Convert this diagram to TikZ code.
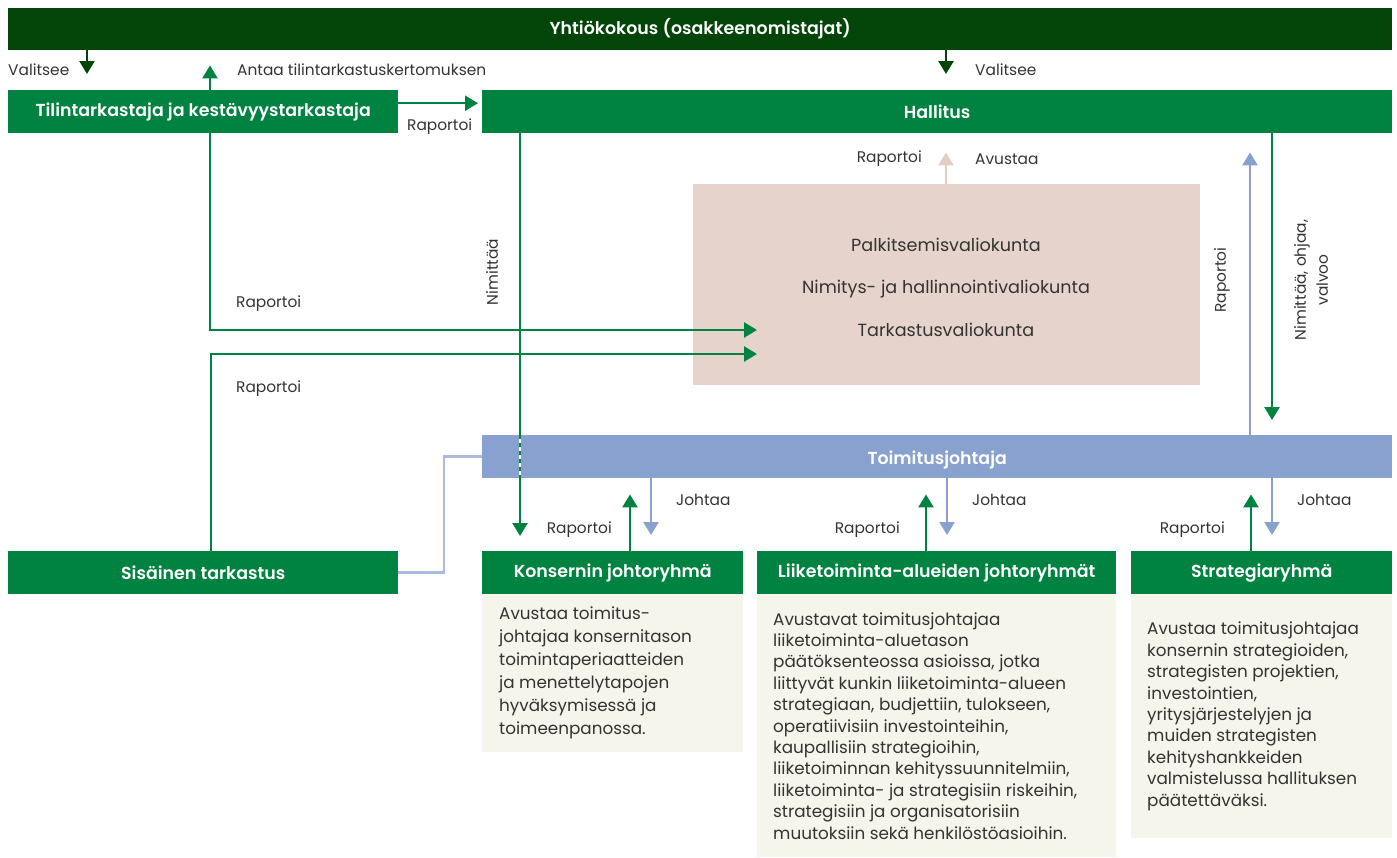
\documentclass[tikz,border=0pt]{standalone}
\usepackage{fontspec}
\setmainfont{Poppins}
\newfontfamily\hdrfont{Poppins}[UprightFont={* SemiBold}]
\usetikzlibrary{arrows.meta,calc}
\definecolor{dkgreen}{HTML}{034508}
\definecolor{mgreen}{HTML}{008240}
\definecolor{tjblue}{HTML}{88A1CF}
\definecolor{ltblue}{HTML}{A9BCE0}
\definecolor{pink}{HTML}{E6D4CC}
\definecolor{pinkarr}{HTML}{E4CEC4}
\definecolor{descbg}{HTML}{F5F5EC}
\definecolor{txt}{HTML}{333333}
\tikzset{
  hdr/.style={rectangle, anchor=north west, inner sep=0pt, text=white, font=\fontsize{17.4}{20}\hdrfont},
  hdrtext/.style={inner sep=0pt, text=white, font=\fontsize{17.4}{20}\hdrfont},
  desc/.style={rectangle, anchor=north west, inner sep=0pt, fill=descbg},
  dtext/.style={anchor=west, align=left, text=txt, inner sep=0pt, font=\fontsize{16.8}{21.4}\selectfont},
  lbl/.style={text=txt, inner sep=0pt, font=\fontsize{15.4}{18}\selectfont},
  arr/.style={line width=2.5pt, -{Triangle[length=13pt,width=15pt]}},
  ln/.style={line width=2.5pt},
}
\begin{document}
\begin{tikzpicture}[x=1pt,y=-1pt]
\useasboundingbox (0,0) rectangle (1397,857);
% x positions
\coordinate (xA) at (87,0);
\coordinate (xB) at (210,0);
\coordinate (xB2) at (211,0);
\coordinate (xN) at (520,0);
\coordinate (xV) at (946,0);
\coordinate (xR) at (1250,0);
\coordinate (xD) at (1272,0);
\coordinate (xK1) at (630,0);
\coordinate (xK2) at (651,0);
\coordinate (xL1) at (926,0);
\coordinate (xL2) at (947,0);
\coordinate (xS1) at (1251,0);
\coordinate (xS2) at (1272,0);
\coordinate (v1) at (757,330);
\coordinate (v2) at (757,354);

% boxes
\node[hdr, fill=dkgreen, minimum width=1384pt, minimum height=42pt] (yk) at (8,8) {Yhtiökokous (osakkeenomistajat)};
\node[hdr, fill=mgreen, minimum width=390pt, minimum height=43pt] (tt) at (8,90) {Tilintarkastaja ja kestävyystarkastaja};
\node[hdr, fill=mgreen, minimum width=910pt, minimum height=43pt] (hal) at (482,90) {Hallitus};
\node[rectangle, anchor=north west, fill=pink, minimum width=507pt, minimum height=201pt, inner sep=0pt] (val) at (693,184) {};
\node[lbl, font=\fontsize{17.6}{20}\selectfont] (v1t) at (946,245) {Palkitsemisvaliokunta};
\node[lbl, font=\fontsize{17.6}{20}\selectfont] (v2t) at (946,289) {Nimitys- ja hallinnointivaliokunta};
\node[lbl, font=\fontsize{17.6}{20}\selectfont] (v3t) at (946,330) {Tarkastusvaliokunta};
\node[hdr, fill=tjblue, minimum width=910pt, minimum height=43pt] (tj) at (482,435) {};
\node[hdrtext] (tjt) at ([yshift=-3pt]tj.center) {Toimitusjohtaja};
\node[hdr, fill=mgreen, minimum width=390pt, minimum height=43pt] (sis) at (8,551) {Sisäinen tarkastus};
\node[hdr, fill=mgreen, minimum width=261pt, minimum height=43pt] (kon) at (482,551) {Konsernin johtoryhmä};
\node[hdr, fill=mgreen, minimum width=359pt, minimum height=43pt] (lii) at (757,551) {Liiketoiminta-alueiden johtoryhmät};
\node[hdr, fill=mgreen, minimum width=261pt, minimum height=43pt] (str) at (1131,551) {Strategiaryhmä};
\node[desc, minimum width=261pt, minimum height=158pt] (kond) at (482,594) {};
\node[desc, minimum width=359pt, minimum height=263pt] (liid) at (757,594) {};
\node[desc, minimum width=261pt, minimum height=244pt] (strd) at (1131,594) {};
\node[dtext, font=\fontsize{16.8}{23}\selectfont] (kont) at (kond.west -| 499,0) {Avustaa toimitus-\\johtajaa konsernitason\\toimintaperiaatteiden\\ja menettelytapojen\\hyväksymisessä ja\\toimeenpanossa.};
\node[dtext] (liit) at (liid.west -| 773,0) {Avustavat toimitusjohtajaa\\liiketoiminta-aluetason\\päätöksenteossa asioissa, jotka\\liittyvät kunkin liiketoiminta-alueen\\strategiaan, budjettiin, tulokseen,\\operatiivisiin investointeihin,\\kaupallisiin strategioihin,\\liiketoiminnan kehityssuunnitelmiin,\\liiketoiminta- ja strategisiin riskeihin,\\strategisiin ja organisatorisiin\\muutoksiin sekä henkilöstöasioihin.};
\node[dtext] (strt) at (strd.west -| 1147,0) {Avustaa toimitusjohtajaa\\konsernin strategioiden,\\strategisten projektien,\\investointien,\\yritysjärjestelyjen ja\\muiden strategisten\\kehityshankkeiden\\valmistelussa hallituksen\\päätettäväksi.};

% connectors
\draw[arr, dkgreen, shorten >=16pt] (yk.south -| xA) -- (tt.north -| xA);
\draw[arr, mgreen, shorten >=15pt] (tt.north -| xB) -- (yk.south -| xB);
\draw[arr, dkgreen, shorten >=16pt] (yk.south -| xV) -- (hal.north -| xV);
\draw[arr, mgreen, shorten >=4pt] ([yshift=8.5pt]tt.east) -- ([yshift=8.5pt]hal.west);
\draw[arr, pinkarr, shorten >=19pt] (val.north -| xV) -- (hal.south -| xV);
\draw[arr, mgreen] (tt.south -| xB) |- (v1);
\draw[arr, mgreen] (sis.north -| xB2) |- (v2);
\draw[arr, mgreen, shorten >=15pt] (hal.south -| xN) -- (kon.north -| xN);
\draw[line width=2.5pt, white] (tj.north -| xN) -- (tj.south -| xN);
\draw[line width=2.5pt, mgreen, dash pattern=on 4pt off 4pt] (tj.north -| xN) -- (tj.south -| xN);
\draw[arr, tjblue, shorten >=19pt] (tj.north -| xR) -- (hal.south -| xR);
\draw[arr, mgreen, shorten >=15pt] (hal.south -| xD) -- (tj.north -| xD);
\draw[ln, ltblue] (tj.west) -- ++(-38,0) |- (sis.east);
\draw[arr, mgreen, shorten >=16pt] (kon.north -| xK1) -- (tj.south -| xK1);
\draw[arr, tjblue, shorten >=16pt] (tj.south -| xK2) -- (kon.north -| xK2);
\draw[arr, mgreen, shorten >=16pt] (lii.north -| xL1) -- (tj.south -| xL1);
\draw[arr, tjblue, shorten >=16pt] (tj.south -| xL2) -- (lii.north -| xL2);
\draw[arr, mgreen, shorten >=16pt] (str.north -| xS1) -- (tj.south -| xS1);
\draw[arr, tjblue, shorten >=16pt] (tj.south -| xS2) -- (str.north -| xS2);

% labels
\node[lbl, anchor=west] (l1) at (8,70) {Valitsee};
\node[lbl, anchor=west] (l2) at (237,70) {Antaa tilintarkastuskertomuksen};
\node[lbl, anchor=west] (l3) at (975,70) {Valitsee};
\node[lbl, anchor=west] (l4) at (407,127) {Raportoi};
\node[lbl, anchor=east] (l5) at (922,159) {Raportoi};
\node[lbl, anchor=west] (l6) at (975,159) {Avustaa};
\node[lbl, rotate=90] (l7) at (492,272) {Nimittää};
\node[lbl, anchor=west] (l8) at (236,304) {Raportoi};
\node[lbl, anchor=west] (l9) at (236,389) {Raportoi};
\node[lbl, rotate=90] (l10) at (1222,280) {Raportoi};
\node[lbl, rotate=90, align=center, font=\fontsize{15.4}{22}\selectfont] (l11) at (1311,280) {Nimittää, ohjaa,\\valvoo};
\node[lbl, anchor=east] (l12) at (612,530) {Raportoi};
\node[lbl, anchor=west] (l13) at (676,500) {Johtaa};
\node[lbl, anchor=east] (l14) at (900,530) {Raportoi};
\node[lbl, anchor=west] (l15) at (972,500) {Johtaa};
\node[lbl, anchor=east] (l16) at (1225,530) {Raportoi};
\node[lbl, anchor=west] (l17) at (1297,500) {Johtaa};
\end{tikzpicture}
\end{document}
